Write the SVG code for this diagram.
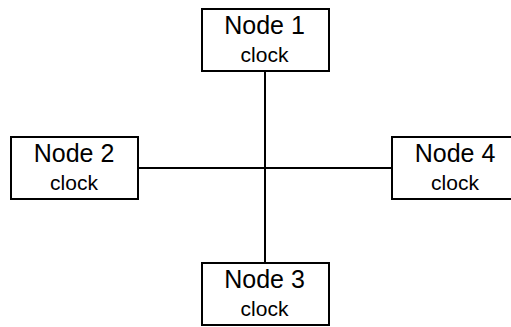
<svg xmlns="http://www.w3.org/2000/svg" width="511" height="327" viewBox="0 0 511 327">
<style>
.box{fill:#fff;stroke:#000;stroke-width:2}
.t1{font-family:"Liberation Sans",Arial,sans-serif;font-size:25px;text-anchor:middle;fill:#000}
.t2{font-family:"Liberation Sans",Arial,sans-serif;font-size:21px;text-anchor:middle;fill:#000}
.ln{stroke:#000;stroke-width:2;fill:none}
</style>
<rect width="511" height="327" fill="#fff"/>
<g id="connectors">
<line class="ln" x1="265" y1="71" x2="265" y2="263"/>
<line class="ln" x1="138" y1="168" x2="392" y2="168"/>
</g>
<g id="node1">
<rect class="box" x="202" y="9" width="127" height="62"/>
<text class="t1" x="264.5" y="34">Node 1</text>
<text class="t2" x="264.5" y="62">clock</text>
</g>
<g id="node2">
<rect class="box" x="11" y="137" width="127" height="62"/>
<text class="t1" x="74" y="162">Node 2</text>
<text class="t2" x="74" y="190">clock</text>
</g>
<g id="node4">
<rect class="box" x="392" y="137" width="127" height="62"/>
<text class="t1" x="455" y="162">Node 4</text>
<text class="t2" x="455" y="190">clock</text>
</g>
<g id="node3">
<rect class="box" x="202" y="263" width="127" height="62"/>
<text class="t1" x="264.5" y="288">Node 3</text>
<text class="t2" x="264.5" y="316">clock</text>
</g>
</svg>
